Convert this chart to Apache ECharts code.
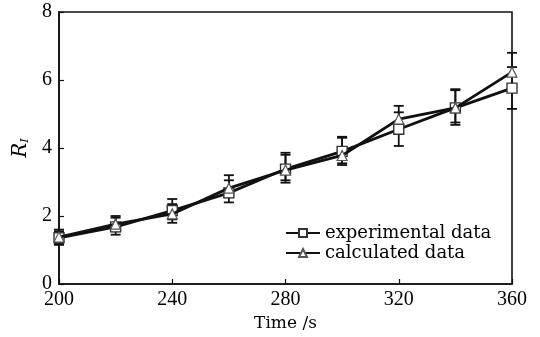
<!DOCTYPE html>
<html>
<head>
<meta charset="utf-8">
<script src="https://cdn.jsdelivr.net/npm/echarts@6/dist/echarts.min.js"></script>
<style>
  html, body { margin: 0; padding: 0; background: #fff; }
  #chart { width: 540px; height: 337px; }
</style>
</head>
<body>
<div id="chart"></div>
<script>
const times = [200, 220, 240, 260, 280, 300, 320, 340, 360];
const experimental = [1.36, 1.68, 2.16, 2.68, 3.38, 3.9, 4.55, 5.18, 5.76];
const calculated = [1.38, 1.76, 2.06, 2.82, 3.35, 3.78, 4.85, 5.18, 6.23];
const expLow = [1.15, 1.45, 1.8, 2.4, 2.98, 3.5, 4.06, 4.68, 5.15];
const expHigh = [1.6, 1.95, 2.5, 3.05, 3.8, 4.3, 5.05, 5.7, 6.38];
const calLow = [1.2, 1.55, 1.9, 2.55, 3.05, 3.55, 4.5, 4.75, 5.65];
const calHigh = [1.55, 2.0, 2.35, 3.2, 3.86, 4.33, 5.24, 5.73, 6.8];
const xTicks = { min: 200, max: 360, step: 40 };
const yTicks = { min: 0, max: 8, step: 2 };

const font = 'DejaVu Serif';
const numFont = 'Liberation Serif';

function errorData(low, high) {
  return times.map((t, i) => [t, low[i], high[i]]);
}

function renderError(params, api) {
  const x = api.value(0);
  const lo = api.coord([x, api.value(1)]);
  const hi = api.coord([x, api.value(2)]);
  const cap = 5;
  const style = { stroke: '#111', lineWidth: 1.8 };
  return {
    type: 'group',
    children: [
      { type: 'line', shape: { x1: lo[0], y1: lo[1], x2: hi[0], y2: hi[1] }, style },
      { type: 'line', shape: { x1: lo[0] - cap, y1: lo[1], x2: lo[0] + cap, y2: lo[1] }, style },
      { type: 'line', shape: { x1: hi[0] - cap, y1: hi[1], x2: hi[0] + cap, y2: hi[1] }, style }
    ]
  };
}

const chart = echarts.init(document.getElementById('chart'));
chart.setOption({
  animation: false,
  backgroundColor: '#fff',
  grid: {
    left: 59, right: 28, top: 12, bottom: 53,
    show: true, borderColor: '#111', borderWidth: 1.6, backgroundColor: 'transparent'
  },
  legend: {
    orient: 'vertical',
    left: 280, top: 219,
    itemWidth: 34, itemHeight: 10, itemGap: 2,
    textStyle: { fontFamily: font, fontSize: 18, color: '#000' },
    data: ['experimental data', 'calculated data']
  },
  xAxis: {
    type: 'value',
    min: xTicks.min, max: xTicks.max, interval: xTicks.step,
    name: 'Time /s', nameLocation: 'middle', nameGap: 26,
    nameTextStyle: { fontFamily: font, fontSize: 17, color: '#000' },
    axisLine: { lineStyle: { color: '#111', width: 1.6 } },
    axisTick: { inside: true, length: 5, lineStyle: { color: '#111', width: 1.2 } },
    axisLabel: { fontFamily: numFont, fontSize: 20, color: '#000', margin: 6 },
    splitLine: { show: false }
  },
  yAxis: {
    type: 'value',
    min: yTicks.min, max: yTicks.max, interval: yTicks.step,
    name: '{r|R}{s|I}', nameLocation: 'middle', nameGap: 27,
    nameTextStyle: {
      rich: {
        r: { fontFamily: font, fontStyle: 'italic', fontSize: 20, color: '#000' },
        s: { fontFamily: font, fontStyle: 'italic', fontSize: 11, color: '#000', verticalAlign: 'bottom', padding: [8, 0, 0, 0] }
      }
    },
    axisLine: { lineStyle: { color: '#111', width: 1.6 } },
    axisTick: { inside: true, length: 5, lineStyle: { color: '#111', width: 1.2 } },
    axisLabel: { fontFamily: numFont, fontSize: 20, color: '#000', margin: 7 },
    splitLine: { show: false }
  },
  series: [
    {
      type: 'custom', name: 'expErr', renderItem: renderError,
      data: errorData(expLow, expHigh), z: 1, silent: true
    },
    {
      type: 'custom', name: 'calErr', renderItem: renderError,
      data: errorData(calLow, calHigh), z: 1, silent: true
    },
    {
      name: 'experimental data', type: 'line',
      data: times.map((t, i) => [t, experimental[i]]),
      symbol: 'rect', symbolSize: 10, showAllSymbol: true,
      lineStyle: { color: '#111', width: 2.8 },
      itemStyle: { color: '#fff', borderColor: '#333', borderWidth: 1.4 },
      z: 3
    },
    {
      name: 'calculated data', type: 'line',
      data: times.map((t, i) => [t, calculated[i]]),
      symbol: 'triangle', symbolSize: 10, showAllSymbol: true,
      lineStyle: { color: '#111', width: 2.8 },
      itemStyle: { color: '#fff', borderColor: '#555', borderWidth: 1.2 },
      z: 4
    }
  ]
});
</script>
</body>
</html>
